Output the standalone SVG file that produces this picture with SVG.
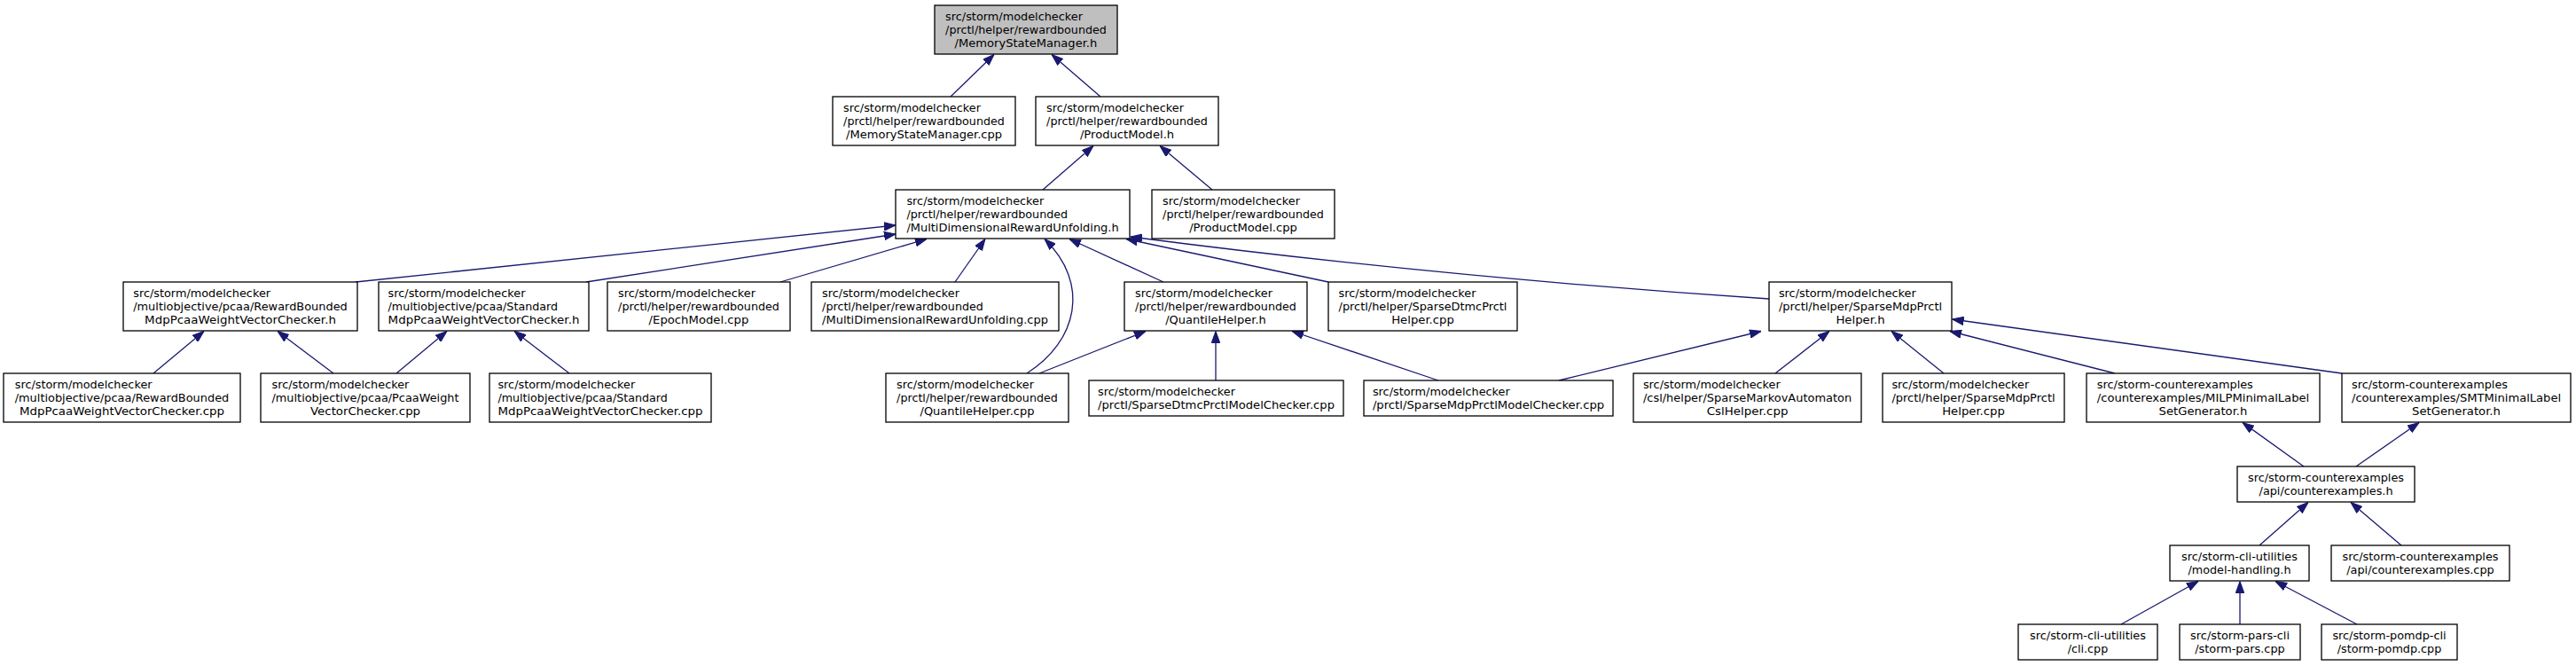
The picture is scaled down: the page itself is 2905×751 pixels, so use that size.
<svg xmlns="http://www.w3.org/2000/svg" width="2905" height="751" viewBox="0 0 2905 751">
<style>
.n rect{fill:#fff;stroke:#000;stroke-width:1.3}
#n0 rect{fill:#bfbfbf}
.t{font-family:"DejaVu Sans","Liberation Sans",sans-serif;font-size:12.3px;fill:#000}
.e{fill:none;stroke:#191970;stroke-width:1.3;marker-end:url(#arr)}
</style>
<defs>
<marker id="arr" viewBox="0 0 13 10" refX="13" refY="5" markerWidth="13" markerHeight="10" markerUnits="userSpaceOnUse" orient="auto">
<path d="M0,0.3 L13,5 L0,9.7 Z" fill="#191970" stroke="#191970" stroke-width="1"/>
</marker>
</defs>
<rect x="0" y="0" width="2905" height="751" fill="#fff"/>
<g id="edges">
<path class="e" d="M1072,109 L1121,61.5"/>
<path class="e" d="M1241,109 L1186,61.5"/>
<path class="e" d="M1176,214 L1233,164.5"/>
<path class="e" d="M1367,214 L1308,164.5"/>
<path class="e" d="M401,318 L1010,254"/>
<path class="e" d="M661,318 L1010,264"/>
<path class="e" d="M880,318 L1045,269.5"/>
<path class="e" d="M1077,318 L1111,269.5"/>
<path class="e" d="M1158,421 C1215,385 1230,320 1178,269.5"/>
<path class="e" d="M1312,318 L1206,269.5"/>
<path class="e" d="M1498,318 L1270,269.5"/>
<path class="e" d="M1995,337 Q1620,312 1275,267"/>
<path class="e" d="M173,421 L230,373.5"/>
<path class="e" d="M376,421 L313,373.5"/>
<path class="e" d="M447,421 L504,373.5"/>
<path class="e" d="M642,421 L580,373.5"/>
<path class="e" d="M1172,421 L1292,373.5"/>
<path class="e" d="M1371,429 L1371,373.5"/>
<path class="e" d="M1622,429 L1457,373.5"/>
<path class="e" d="M1758,429 L1986,373.5"/>
<path class="e" d="M2002,421 L2063,373.5"/>
<path class="e" d="M2192,421 L2133,373.5"/>
<path class="e" d="M2385,421 L2199,373.5"/>
<path class="e" d="M2641,421 L2201.5,360"/>
<path class="e" d="M2598,526 L2529,476.5"/>
<path class="e" d="M2657,526 L2728,476.5"/>
<path class="e" d="M2548,615 L2603,566.5"/>
<path class="e" d="M2708,615 L2651,566.5"/>
<path class="e" d="M2392,704 L2479,655.5"/>
<path class="e" d="M2526,704 L2526,655.5"/>
<path class="e" d="M2658,704 L2566,655.5"/>
</g>
<g id="n0" class="n"><rect x="1054" y="6" width="206" height="55"/>
<text class="t" x="1066.1" y="22.5" textLength="154.9" lengthAdjust="spacingAndGlyphs">src/storm/modelchecker</text>
<text class="t" x="1066.1" y="37.5" textLength="181.8" lengthAdjust="spacingAndGlyphs">/prctl/helper/rewardbounded</text>
<text class="t" x="1076.6" y="52.5" textLength="160.7" lengthAdjust="spacingAndGlyphs">/MemoryStateManager.h</text></g>
<g id="n1" class="n"><rect x="939" y="109" width="206" height="55"/>
<text class="t" x="951.1" y="125.5" textLength="154.9" lengthAdjust="spacingAndGlyphs">src/storm/modelchecker</text>
<text class="t" x="951.1" y="140.5" textLength="181.8" lengthAdjust="spacingAndGlyphs">/prctl/helper/rewardbounded</text>
<text class="t" x="954" y="155.5" textLength="176.1" lengthAdjust="spacingAndGlyphs">/MemoryStateManager.cpp</text></g>
<g id="n2" class="n"><rect x="1168" y="109" width="206" height="55"/>
<text class="t" x="1180.1" y="125.5" textLength="154.9" lengthAdjust="spacingAndGlyphs">src/storm/modelchecker</text>
<text class="t" x="1180.1" y="140.5" textLength="181.8" lengthAdjust="spacingAndGlyphs">/prctl/helper/rewardbounded</text>
<text class="t" x="1217.9" y="155.5" textLength="106.3" lengthAdjust="spacingAndGlyphs">/ProductModel.h</text></g>
<g id="n3" class="n"><rect x="1010" y="214" width="264" height="55"/>
<text class="t" x="1022.4" y="230.5" textLength="154.9" lengthAdjust="spacingAndGlyphs">src/storm/modelchecker</text>
<text class="t" x="1022.4" y="245.5" textLength="181.8" lengthAdjust="spacingAndGlyphs">/prctl/helper/rewardbounded</text>
<text class="t" x="1022.4" y="260.5" textLength="239.3" lengthAdjust="spacingAndGlyphs">/MultiDimensionalRewardUnfolding.h</text></g>
<g id="n4" class="n"><rect x="1299" y="214" width="206" height="55"/>
<text class="t" x="1311.1" y="230.5" textLength="154.9" lengthAdjust="spacingAndGlyphs">src/storm/modelchecker</text>
<text class="t" x="1311.1" y="245.5" textLength="181.8" lengthAdjust="spacingAndGlyphs">/prctl/helper/rewardbounded</text>
<text class="t" x="1341.2" y="260.5" textLength="121.7" lengthAdjust="spacingAndGlyphs">/ProductModel.cpp</text></g>
<g id="n5" class="n"><rect x="139" y="318" width="264" height="55"/>
<text class="t" x="150.2" y="334.5" textLength="154.9" lengthAdjust="spacingAndGlyphs">src/storm/modelchecker</text>
<text class="t" x="150.2" y="349.5" textLength="241.6" lengthAdjust="spacingAndGlyphs">/multiobjective/pcaa/RewardBounded</text>
<text class="t" x="163.1" y="364.5" textLength="215.8" lengthAdjust="spacingAndGlyphs">MdpPcaaWeightVectorChecker.h</text></g>
<g id="n6" class="n"><rect x="427" y="318" width="237" height="55"/>
<text class="t" x="437.6" y="334.5" textLength="154.9" lengthAdjust="spacingAndGlyphs">src/storm/modelchecker</text>
<text class="t" x="437.6" y="349.5" textLength="191.5" lengthAdjust="spacingAndGlyphs">/multiobjective/pcaa/Standard</text>
<text class="t" x="437.6" y="364.5" textLength="215.8" lengthAdjust="spacingAndGlyphs">MdpPcaaWeightVectorChecker.h</text></g>
<g id="n7" class="n"><rect x="685" y="318" width="206" height="55"/>
<text class="t" x="697.1" y="334.5" textLength="154.9" lengthAdjust="spacingAndGlyphs">src/storm/modelchecker</text>
<text class="t" x="697.1" y="349.5" textLength="181.8" lengthAdjust="spacingAndGlyphs">/prctl/helper/rewardbounded</text>
<text class="t" x="731.6" y="364.5" textLength="112.8" lengthAdjust="spacingAndGlyphs">/EpochModel.cpp</text></g>
<g id="n8" class="n"><rect x="915" y="318" width="279" height="55"/>
<text class="t" x="927.1" y="334.5" textLength="154.9" lengthAdjust="spacingAndGlyphs">src/storm/modelchecker</text>
<text class="t" x="927.1" y="349.5" textLength="181.8" lengthAdjust="spacingAndGlyphs">/prctl/helper/rewardbounded</text>
<text class="t" x="927.1" y="364.5" textLength="254.8" lengthAdjust="spacingAndGlyphs">/MultiDimensionalRewardUnfolding.cpp</text></g>
<g id="n9" class="n"><rect x="1268" y="318" width="206" height="55"/>
<text class="t" x="1280.1" y="334.5" textLength="154.9" lengthAdjust="spacingAndGlyphs">src/storm/modelchecker</text>
<text class="t" x="1280.1" y="349.5" textLength="181.8" lengthAdjust="spacingAndGlyphs">/prctl/helper/rewardbounded</text>
<text class="t" x="1314.2" y="364.5" textLength="113.6" lengthAdjust="spacingAndGlyphs">/QuantileHelper.h</text></g>
<g id="n10" class="n"><rect x="1498" y="318" width="213" height="55"/>
<text class="t" x="1509.6" y="334.5" textLength="154.9" lengthAdjust="spacingAndGlyphs">src/storm/modelchecker</text>
<text class="t" x="1509.6" y="349.5" textLength="189.8" lengthAdjust="spacingAndGlyphs">/prctl/helper/SparseDtmcPrctl</text>
<text class="t" x="1569.2" y="364.5" textLength="70.6" lengthAdjust="spacingAndGlyphs">Helper.cpp</text></g>
<g id="n11" class="n"><rect x="1995" y="318" width="206" height="55"/>
<text class="t" x="2005.9" y="334.5" textLength="154.9" lengthAdjust="spacingAndGlyphs">src/storm/modelchecker</text>
<text class="t" x="2005.9" y="349.5" textLength="184.2" lengthAdjust="spacingAndGlyphs">/prctl/helper/SparseMdpPrctl</text>
<text class="t" x="2070.4" y="364.5" textLength="55.2" lengthAdjust="spacingAndGlyphs">Helper.h</text></g>
<g id="n12" class="n"><rect x="4" y="421" width="267" height="55"/>
<text class="t" x="16.7" y="437.5" textLength="154.9" lengthAdjust="spacingAndGlyphs">src/storm/modelchecker</text>
<text class="t" x="16.7" y="452.5" textLength="241.6" lengthAdjust="spacingAndGlyphs">/multiobjective/pcaa/RewardBounded</text>
<text class="t" x="21.9" y="467.5" textLength="231.2" lengthAdjust="spacingAndGlyphs">MdpPcaaWeightVectorChecker.cpp</text></g>
<g id="n13" class="n"><rect x="294" y="421" width="236" height="55"/>
<text class="t" x="306.5" y="437.5" textLength="154.9" lengthAdjust="spacingAndGlyphs">src/storm/modelchecker</text>
<text class="t" x="306.5" y="452.5" textLength="211" lengthAdjust="spacingAndGlyphs">/multiobjective/pcaa/PcaaWeight</text>
<text class="t" x="350" y="467.5" textLength="124.1" lengthAdjust="spacingAndGlyphs">VectorChecker.cpp</text></g>
<g id="n14" class="n"><rect x="552" y="421" width="250" height="55"/>
<text class="t" x="561.4" y="437.5" textLength="154.9" lengthAdjust="spacingAndGlyphs">src/storm/modelchecker</text>
<text class="t" x="561.4" y="452.5" textLength="191.5" lengthAdjust="spacingAndGlyphs">/multiobjective/pcaa/Standard</text>
<text class="t" x="561.4" y="467.5" textLength="231.2" lengthAdjust="spacingAndGlyphs">MdpPcaaWeightVectorChecker.cpp</text></g>
<g id="n15" class="n"><rect x="999" y="421" width="206" height="55"/>
<text class="t" x="1011.1" y="437.5" textLength="154.9" lengthAdjust="spacingAndGlyphs">src/storm/modelchecker</text>
<text class="t" x="1011.1" y="452.5" textLength="181.8" lengthAdjust="spacingAndGlyphs">/prctl/helper/rewardbounded</text>
<text class="t" x="1037.5" y="467.5" textLength="129" lengthAdjust="spacingAndGlyphs">/QuantileHelper.cpp</text></g>
<g id="n16" class="n"><rect x="1228" y="429" width="287" height="40"/>
<text class="t" x="1238.1" y="445.5" textLength="154.9" lengthAdjust="spacingAndGlyphs">src/storm/modelchecker</text>
<text class="t" x="1238.1" y="460.5" textLength="266.9" lengthAdjust="spacingAndGlyphs">/prctl/SparseDtmcPrctlModelChecker.cpp</text></g>
<g id="n17" class="n"><rect x="1538" y="429" width="281" height="40"/>
<text class="t" x="1547.9" y="445.5" textLength="154.9" lengthAdjust="spacingAndGlyphs">src/storm/modelchecker</text>
<text class="t" x="1547.9" y="460.5" textLength="261.3" lengthAdjust="spacingAndGlyphs">/prctl/SparseMdpPrctlModelChecker.cpp</text></g>
<g id="n18" class="n"><rect x="1842" y="421" width="257" height="55"/>
<text class="t" x="1852.9" y="437.5" textLength="154.9" lengthAdjust="spacingAndGlyphs">src/storm/modelchecker</text>
<text class="t" x="1852.9" y="452.5" textLength="235.3" lengthAdjust="spacingAndGlyphs">/csl/helper/SparseMarkovAutomaton</text>
<text class="t" x="1924.7" y="467.5" textLength="91.7" lengthAdjust="spacingAndGlyphs">CslHelper.cpp</text></g>
<g id="n19" class="n"><rect x="2123" y="421" width="205" height="55"/>
<text class="t" x="2133.4" y="437.5" textLength="154.9" lengthAdjust="spacingAndGlyphs">src/storm/modelchecker</text>
<text class="t" x="2133.4" y="452.5" textLength="184.2" lengthAdjust="spacingAndGlyphs">/prctl/helper/SparseMdpPrctl</text>
<text class="t" x="2190.2" y="467.5" textLength="70.6" lengthAdjust="spacingAndGlyphs">Helper.cpp</text></g>
<g id="n20" class="n"><rect x="2353" y="421" width="263" height="55"/>
<text class="t" x="2364.8" y="437.5" textLength="176" lengthAdjust="spacingAndGlyphs">src/storm-counterexamples</text>
<text class="t" x="2364.8" y="452.5" textLength="239.4" lengthAdjust="spacingAndGlyphs">/counterexamples/MILPMinimalLabel</text>
<text class="t" x="2434.6" y="467.5" textLength="99.8" lengthAdjust="spacingAndGlyphs">SetGenerator.h</text></g>
<g id="n21" class="n"><rect x="2641" y="421" width="258" height="55"/>
<text class="t" x="2652" y="437.5" textLength="176" lengthAdjust="spacingAndGlyphs">src/storm-counterexamples</text>
<text class="t" x="2652" y="452.5" textLength="236.1" lengthAdjust="spacingAndGlyphs">/counterexamples/SMTMinimalLabel</text>
<text class="t" x="2720.1" y="467.5" textLength="99.8" lengthAdjust="spacingAndGlyphs">SetGenerator.h</text></g>
<g id="n22" class="n"><rect x="2523" y="526" width="200" height="40"/>
<text class="t" x="2535" y="542.5" textLength="176" lengthAdjust="spacingAndGlyphs">src/storm-counterexamples</text>
<text class="t" x="2547.6" y="557.5" textLength="150.9" lengthAdjust="spacingAndGlyphs">/api/counterexamples.h</text></g>
<g id="n23" class="n"><rect x="2447" y="615" width="157" height="40"/>
<text class="t" x="2460.1" y="631.5" textLength="130.8" lengthAdjust="spacingAndGlyphs">src/storm-cli-utilities</text>
<text class="t" x="2467.5" y="646.5" textLength="116" lengthAdjust="spacingAndGlyphs">/model-handling.h</text></g>
<g id="n24" class="n"><rect x="2629" y="615" width="201" height="40"/>
<text class="t" x="2641.5" y="631.5" textLength="176" lengthAdjust="spacingAndGlyphs">src/storm-counterexamples</text>
<text class="t" x="2646.3" y="646.5" textLength="166.4" lengthAdjust="spacingAndGlyphs">/api/counterexamples.cpp</text></g>
<g id="n25" class="n"><rect x="2276" y="704" width="157" height="40"/>
<text class="t" x="2289.1" y="720.5" textLength="130.8" lengthAdjust="spacingAndGlyphs">src/storm-cli-utilities</text>
<text class="t" x="2331.8" y="735.5" textLength="45.4" lengthAdjust="spacingAndGlyphs">/cli.cpp</text></g>
<g id="n26" class="n"><rect x="2458" y="704" width="136" height="40"/>
<text class="t" x="2470.1" y="720.5" textLength="111.9" lengthAdjust="spacingAndGlyphs">src/storm-pars-cli</text>
<text class="t" x="2475.3" y="735.5" textLength="101.4" lengthAdjust="spacingAndGlyphs">/storm-pars.cpp</text></g>
<g id="n27" class="n"><rect x="2618" y="704" width="153" height="40"/>
<text class="t" x="2630.4" y="720.5" textLength="128.2" lengthAdjust="spacingAndGlyphs">src/storm-pomdp-cli</text>
<text class="t" x="2635.7" y="735.5" textLength="117.6" lengthAdjust="spacingAndGlyphs">/storm-pomdp.cpp</text></g>
</svg>
